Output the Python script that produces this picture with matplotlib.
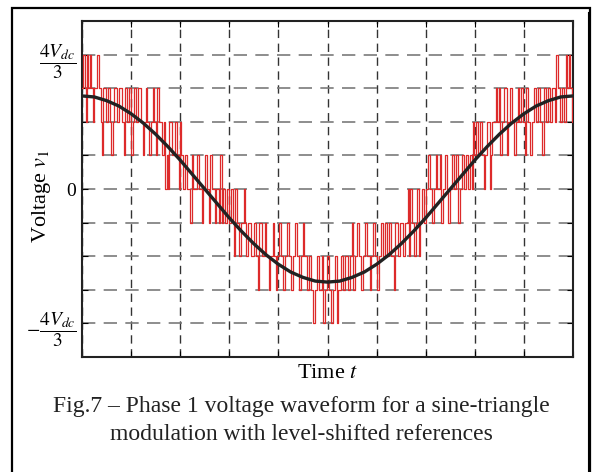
import matplotlib.pyplot as plt
import numpy as np
from matplotlib.patches import Rectangle
from matplotlib.lines import Line2D

plt.rcParams['font.family'] = 'Liberation Serif'
plt.rcParams['mathtext.fontset'] = 'stix'

# switching instants (time in grid divisions) and phase voltage level (units of Vdc/3)
sw_t = [0.00, 0.03, 0.06, 0.08, 0.10, 0.13, 0.16, 0.18, 0.22, 0.25, 0.31, 0.34, 0.38, 0.40,
        0.42, 0.48, 0.52, 0.58, 0.60, 0.63, 0.66, 0.72, 0.76, 0.82, 0.85, 0.87, 0.92, 0.96,
        1.00, 1.03, 1.06, 1.10, 1.15, 1.20, 1.24, 1.27, 1.31, 1.33, 1.37, 1.41, 1.44, 1.47,
        1.50, 1.52, 1.56, 1.62, 1.66, 1.70, 1.73, 1.76, 1.78, 1.84, 1.90, 1.93, 1.97, 1.99,
        2.02, 2.06, 2.09, 2.14, 2.20, 2.23, 2.27, 2.34, 2.38, 2.44, 2.47, 2.51, 2.55, 2.58,
        2.61, 2.65, 2.70, 2.73, 2.79, 2.82, 2.85, 2.88, 2.92, 2.95,
        3.00, 3.04, 3.07, 3.10, 3.12, 3.15, 3.20, 3.23, 3.29, 3.31, 3.35, 3.39, 3.45, 3.50,
        3.54, 3.58, 3.61, 3.66, 3.72, 3.75, 3.80, 3.83, 3.88, 3.91, 3.95, 3.98,
        4.02, 4.05, 4.10, 4.14, 4.18, 4.21, 4.26, 4.29, 4.34, 4.37, 4.42, 4.46, 4.50, 4.52,
        4.58, 4.62, 4.66, 4.71, 4.74, 4.78, 4.82, 4.88, 4.91, 4.94, 4.98,
        5.03, 5.08, 5.11, 5.15, 5.19, 5.22, 5.27, 5.32, 5.36, 5.41, 5.45, 5.49, 5.52, 5.55,
        5.61, 5.64, 5.69, 5.72, 5.77, 5.80, 5.86, 5.89, 5.93, 5.96,
        6.01, 6.04, 6.08, 6.12, 6.17, 6.21, 6.26, 6.30, 6.35, 6.38, 6.43, 6.48, 6.53, 6.58,
        6.63, 6.66, 6.69, 6.72, 6.77, 6.80, 6.83, 6.86, 6.89, 6.93, 6.97,
        7.01, 7.05, 7.08, 7.13, 7.16, 7.20, 7.24, 7.29, 7.32, 7.35, 7.40, 7.44, 7.46, 7.49,
        7.53, 7.58, 7.62, 7.66, 7.69, 7.73, 7.77, 7.82, 7.86, 7.90, 7.94, 7.96, 7.99,
        8.03, 8.06, 8.10, 8.14, 8.18, 8.21, 8.25, 8.30, 8.32, 8.36, 8.43, 8.46, 8.50, 8.52,
        8.55, 8.60, 8.65, 8.68, 8.72, 8.76, 8.80, 8.83, 8.87, 8.91, 8.95, 8.98,
        9.02, 9.05, 9.09, 9.13, 9.16, 9.20, 9.25, 9.29, 9.33, 9.36, 9.40, 9.44, 9.49, 9.54,
        9.58, 9.63, 9.66, 9.69, 9.74, 9.77, 9.82, 9.85, 9.88, 9.91, 9.94, 9.97, 10.0]
sw_v = [3, 4, 3, 2, 4, 3, 4, 3, 2, 3, 4, 3, 2, 1,
        3, 2, 3, 2, 1, 2, 3, 2, 3, 2, 1, 3, 2, 3,
        1, 2, 3, 2, 3, 2, 1, 2, 3, 2, 1, 2, 3, 2,
        1, 3, 2, 1, 2, 0, 1, 0, 2, 1, 2, 1, 0, 2,
        1, 0, 1, 0, -1, 1, 0, 1, 0, -1, 0, 1, 0, -1,
        1, 0, -1, 0, -1, 1, -1, 0, -1, 0,
        -1, 0, -1, -2, 0, -1, -2, -1, 0, -1, -2, -1, -2, -1,
        -2, -3, -1, -2, -1, -2, -3, -2, -1, -2, -3, -2,
        -1, -2, -3, -2, -1, -2, -3, -2, -1, -2, -3, -2, -1, -2,
        -3, -2, -3, -4, -3, -2, -3, -2, -4, -3, -2,
        -3, -4, -3, -2, -4, -3, -2, -3, -2, -3, -2, -1, -3, -2,
        -1, -2, -3, -2, -1, -2, -3, -2, -1, -2,
        -3, -2, -1, -2, -1, -2, -1, -2, -3, -1, -2, -1, -2, -1,
        0, -2, 0, -1, -2, -1, 0, -2, -1, 0, -1,
        0, 1, 0, -1, 0, 1, 0, 1, -1, 0, 1, 0, -1, 0,
        1, 0, 1, -1, 0, 1, 0, 1, 0, 1, 0, 2, 1,
        2, 1, 2, 1, 0, 1, 2, 0, 1, 2, 3, 2, 3, 1,
        2, 3, 1, 2, 3, 2, 1, 2, 3, 2, 3, 2,
        1, 3, 2, 1, 2, 3, 2, 3, 2, 1, 3, 2, 3, 2,
        3, 2, 4, 3, 2, 3, 2, 4, 3, 4, 3, 2, 2]

# sinusoidal reference read every quarter division
ref_t = np.arange(0, 10.01, 0.25)
ref_v = [2.77, 2.74, 2.63, 2.47, 2.24, 1.96, 1.63, 1.26, 0.86, 0.43, 0.00,
         -0.43, -0.86, -1.26, -1.63, -1.96, -2.24, -2.47, -2.63, -2.74, -2.77,
         -2.74, -2.63, -2.47, -2.24, -1.96, -1.63, -1.26, -0.86, -0.43, 0.00,
         0.43, 0.86, 1.26, 1.63, 1.96, 2.24, 2.47, 2.63, 2.74, 2.77]

ytick_vals = [-4, -3, -2, -1, 0, 1, 2, 3, 4]
ytick_labels = [r'$-\dfrac{4V_{dc}}{3}$', '', '', '', '0', '', '', '', r'$\dfrac{4V_{dc}}{3}$']

fig = plt.figure(figsize=(5.93, 4.72), dpi=100)
ax = fig.add_axes([0.1383, 0.2436, 0.828, 0.7119])

ax.step(sw_t, sw_v, where='post', color='#dd2a2a', lw=0.9, zorder=3)
ax.plot(ref_t, ref_v, color='#222222', lw=2.4, zorder=4)

ax.set_xlim(0, 10)
ax.set_ylim(-5, 5)
ax.set_xticks(range(0, 11))
ax.set_xticklabels([])
ax.set_yticks(ytick_vals)
ax.set_yticklabels(ytick_labels, fontsize=14)
ax.tick_params(direction='in', length=4, width=0.8, top=True, right=True, pad=4)
ax.xaxis.grid(True, color='#333333', lw=1.0, ls=(0, (6, 4)))
ax.yaxis.grid(True, color='#7a7a7a', lw=1.2, ls=(0, (8, 5)))
for s in ax.spines.values():
    s.set_linewidth(1.5)
    s.set_color('#222222')

ax.set_xlabel('Time $t$', fontsize=16, labelpad=1)
ax.set_ylabel('Voltage $v_1$', fontsize=16)
ax.yaxis.set_label_coords(-0.059, 0.48)

fig.text(0.508, 1 - 412 / 472, 'Fig.7 \u2013 Phase 1 voltage waveform for a sine-triangle',
         ha='center', va='baseline', fontsize=17, color='#222222')
fig.text(0.508, 1 - 440 / 472, 'modulation with level-shifted references',
         ha='center', va='baseline', fontsize=17, color='#222222')

# outer frame around figure and caption
fig.patches.append(Rectangle((12 / 593, -0.05), 578 / 593, 1.033, transform=fig.transFigure,
                             fill=False, ec='black', lw=1.6))
fig.add_artist(Line2D([588 / 593, 588 / 593], [-0.05, 0.975], transform=fig.transFigure,
                      color='black', lw=0.8))

fig.savefig('out.png', dpi=100)
